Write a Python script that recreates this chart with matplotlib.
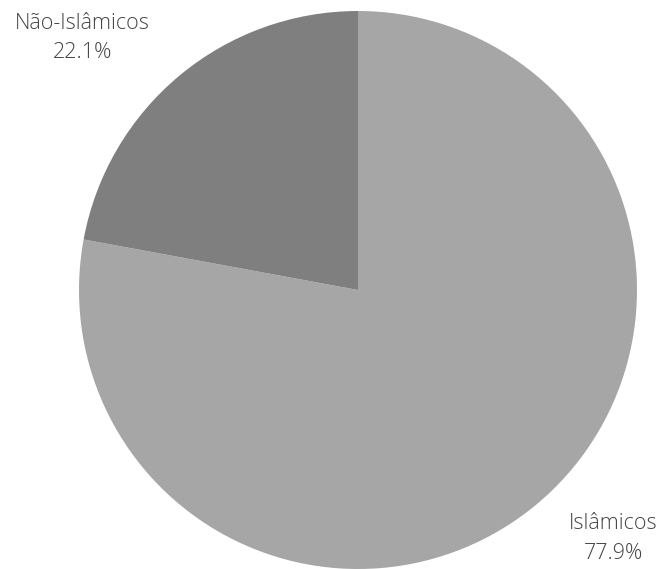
import matplotlib.pyplot as plt

# Dados do gráfico
categorias = ['Islâmicos', 'Não-Islâmicos']
valores = [77.9, 22.1]
cores = ['#a6a6a6', '#7f7f7f']

plt.rcParams['font.family'] = ['Open Sans', 'DejaVu Sans']

fig = plt.figure(figsize=(6.59, 5.69), dpi=100)
ax = fig.add_axes([79 / 659, 0, 558 / 659, 558 / 569])

ax.pie(valores, colors=cores, startangle=90, counterclock=False,
       radius=1, wedgeprops={'linewidth': 0})
ax.set_xlim(-1, 1)
ax.set_ylim(-1, 1)
ax.set_aspect('equal')
ax.axis('off')

# Posições dos rótulos (fora da pizza)
posicoes = [(0.914, -0.892), (-0.989, 0.903)]
for cat, val, (x, y) in zip(categorias, valores, posicoes):
    ax.text(x, y, f'{cat}\n{val:.1f}%', ha='center', va='center',
            fontsize=15.5, color='#454545', fontweight='light',
            linespacing=1.55, clip_on=False)

fig.savefig('out.png', dpi=100)
